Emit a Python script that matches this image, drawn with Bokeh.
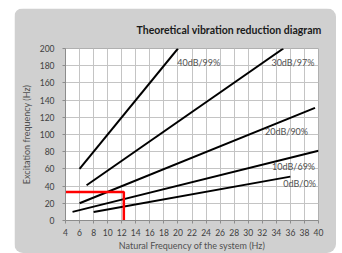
from bokeh.plotting import figure
from bokeh.models import Label, FixedTicker
from bokeh.embed import file_html
from bokeh.resources import INLINE

# Data
fn_0db = [8, 36]
fe_0db = [10, 51]
fn_10db = [5, 40]
fe_10db = [10, 81]
fn_20db = [6, 39.5]
fe_20db = [20, 131]
fn_30db = [7, 35]
fe_30db = [41, 200]
fn_40db = [6, 20]
fe_40db = [60, 200]

red_x = [4, 12.3, 12.3]
red_y = [33, 33, 0]

label_texts = ["40dB/99%", "30dB/97%", "20dB/90%", "10dB/69%", "0dB/0%"]
label_x = [19.9, 33.3, 32.4, 33.4, 35.0]
label_y = [184, 184, 103, 63, 43]

x_ticks = list(range(4, 41, 2))
y_ticks = list(range(0, 201, 20))

FONT = "Lato"

p = figure(width=322, height=245, output_backend="svg", toolbar_location=None,
           x_range=(4, 40), y_range=(0, 200),
           title="Theoretical vibration reduction diagram",
           min_border_left=51, min_border_right=18, min_border_top=39, min_border_bottom=33,
           background_fill_color="white", border_fill_color="#d0d0d0",
           outline_line_color="#b0b0b0",
           margin=(8, 0, 0, 14),
           styles={"border-radius": "9px", "overflow": "hidden"})

p.title.align = "right"
p.title.text_font = FONT
p.title.text_font_size = "10.5px"
p.title.text_font_style = "bold"
p.title.text_color = "#1a1a1a"
p.title.standoff = 26
p.title.offset = -3

for xs, ys in [(fn_0db, fe_0db), (fn_10db, fe_10db), (fn_20db, fe_20db),
               (fn_30db, fe_30db), (fn_40db, fe_40db)]:
    p.line(xs, ys, line_color="black", line_width=2)

p.line(red_x, red_y, line_color="#ff0000", line_width=2.5)

for t, lx, ly in zip(label_texts, label_x, label_y):
    p.add_layout(Label(x=lx, y=ly, text=t, text_font=FONT, text_font_size="9px",
                       text_color="#505050", text_align="left", text_baseline="middle"))

p.xaxis.ticker = FixedTicker(ticks=x_ticks)
p.yaxis.ticker = FixedTicker(ticks=y_ticks)
p.xgrid.ticker = FixedTicker(ticks=x_ticks)
p.ygrid.ticker = FixedTicker(ticks=y_ticks)
p.grid.grid_line_color = "#c4c4c4"
p.grid.grid_line_width = 1

for ax in (p.xaxis, p.yaxis):
    ax.axis_line_color = "#8c8c8c"
    ax.major_tick_line_color = "#8c8c8c"
    ax.major_tick_out = 3
    ax.major_tick_in = 0
    ax.minor_tick_line_color = None
    ax.major_label_text_font = FONT
    ax.major_label_text_font_size = "8.5px"
    ax.major_label_text_color = "#404040"
    ax.axis_label_text_font = FONT
    ax.axis_label_text_font_size = "9px"
    ax.axis_label_text_font_style = "normal"
    ax.axis_label_text_color = "#505050"

p.xaxis.major_label_standoff = 5
p.xaxis.axis_label = "Natural Frequency of the system (Hz)"
p.xaxis.axis_label_standoff = 1
p.yaxis.major_label_standoff = 8
p.yaxis.axis_label = "Excitation frequency (Hz)"
p.yaxis.axis_label_standoff = 5

open("out.html", "w").write(file_html(p, INLINE))
